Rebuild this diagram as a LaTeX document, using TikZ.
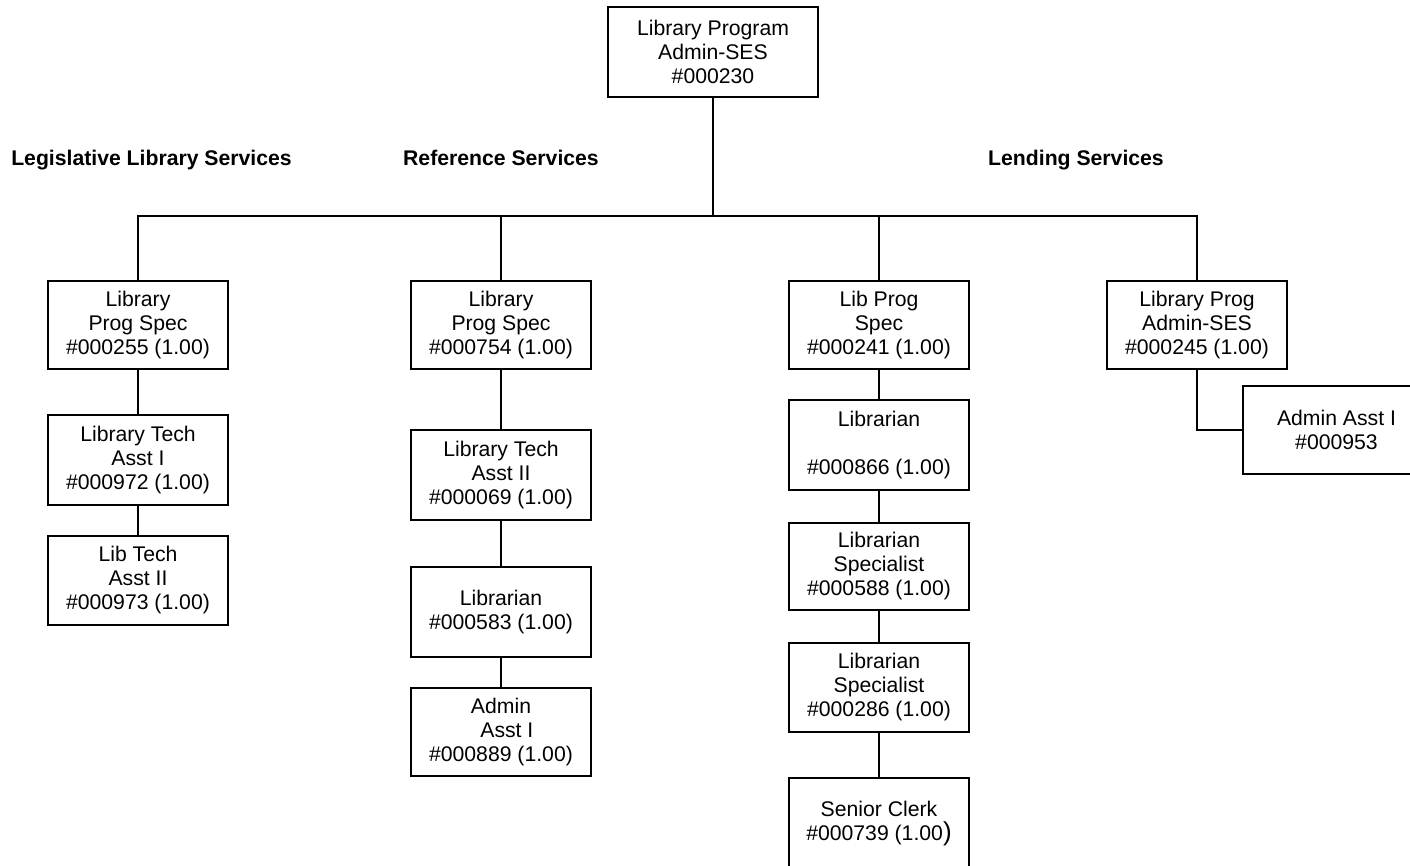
\documentclass[tikz,border=0pt]{standalone}
\usepackage{fontspec}
\setmainfont{Liberation Sans}
\begin{document}
\begin{tikzpicture}[x=0.5pt,y=-0.5pt,
  every node/.style={font=\fontsize{10.6}{12}\selectfont},
  posbox/.style={draw,line width=0.7pt,align=center,minimum width=90pt,minimum height=44pt,inner sep=0pt},
  head/.style={font=\fontsize{10.6}{12}\selectfont\bfseries,text height=7.6pt,text depth=2.2pt,inner sep=0pt},
  link/.style={line width=0.7pt}]
\clip (0,0) rectangle (1410,866);

% head of the program
\node[posbox,minimum width=105pt,minimum height=45pt] (top) at (713,52) {Library Program\\Admin-SES\\\#000230};

% section headings
\node[head] (h1) at (151.5,160) {Legislative Library Services};
\node[head] (h2) at (501,160) {Reference Services};
\node[head] (h3) at (1076,160) {Lending Services};

% Legislative Library Services
\node[posbox] (a1) at (138,325) {Library\\Prog Spec\\\#000255 (1.00)};
\node[posbox,minimum height=45pt] (a2) at (138,460) {Library Tech\\Asst I\\\#000972 (1.00)};
\node[posbox,minimum height=44.5pt] (a3) at (138,580.5) {Lib Tech\\Asst II\\\#000973 (1.00)};

% Reference Services
\node[posbox] (b1) at (501,325) {Library\\Prog Spec\\\#000754 (1.00)};
\node[posbox,minimum height=45pt] (b2) at (501,475) {Library Tech\\Asst II\\\#000069 (1.00)};
\node[posbox,minimum height=45pt] (b3) at (501,612) {Librarian\\\#000583 (1.00)};
\node[posbox] (b4) at (501,732) {Admin\\\ \ Asst I\\\#000889 (1.00)};

% Lending Services
\node[posbox] (c1) at (879,325) {Lib Prog\\Spec\\\#000241 (1.00)};
\node[posbox,minimum height=45pt] (c2) at (879,445) {Librarian\\[12pt]\#000866 (1.00)};
\node[posbox,minimum height=43.5pt] (c3) at (879,566.5) {Librarian\\Specialist\\\#000588 (1.00)};
\node[posbox,minimum height=44.5pt] (c4) at (879,687.5) {Librarian\\Specialist\\\#000286 (1.00)};
\node[posbox,minimum height=46pt] (c5) at (879,824) {Senior Clerk\\\#000739 (1.00{\fontsize{13}{12}\selectfont)}};

% Lending Services, second unit
\node[posbox] (d1) at (1197,325) {Library Prog\\Admin-SES\\\#000245 (1.00)};
\node[posbox,minimum width=93.5pt] (d2) at (1336.5,430) {Admin Asst I\\\#000953};

% reporting lines
\coordinate (bus) at (713,216);
\draw[link] (top.south) -- (bus);
\draw[link] (a1.north) |- (bus);
\draw[link] (b1.north) |- (bus);
\draw[link] (c1.north) |- (bus);
\draw[link] (bus) -| (d1.north);

\draw[link] (a1) -- (a2);
\draw[link] (a2) -- (a3);
\draw[link] (b1) -- (b2);
\draw[link] (b2) -- (b3);
\draw[link] (b3) -- (b4);
\draw[link] (c1) -- (c2);
\draw[link] (c2) -- (c3);
\draw[link] (c3) -- (c4);
\draw[link] (c4) -- (c5);
\draw[link] (d1.south) |- (d2.west);
\end{tikzpicture}
\end{document}
